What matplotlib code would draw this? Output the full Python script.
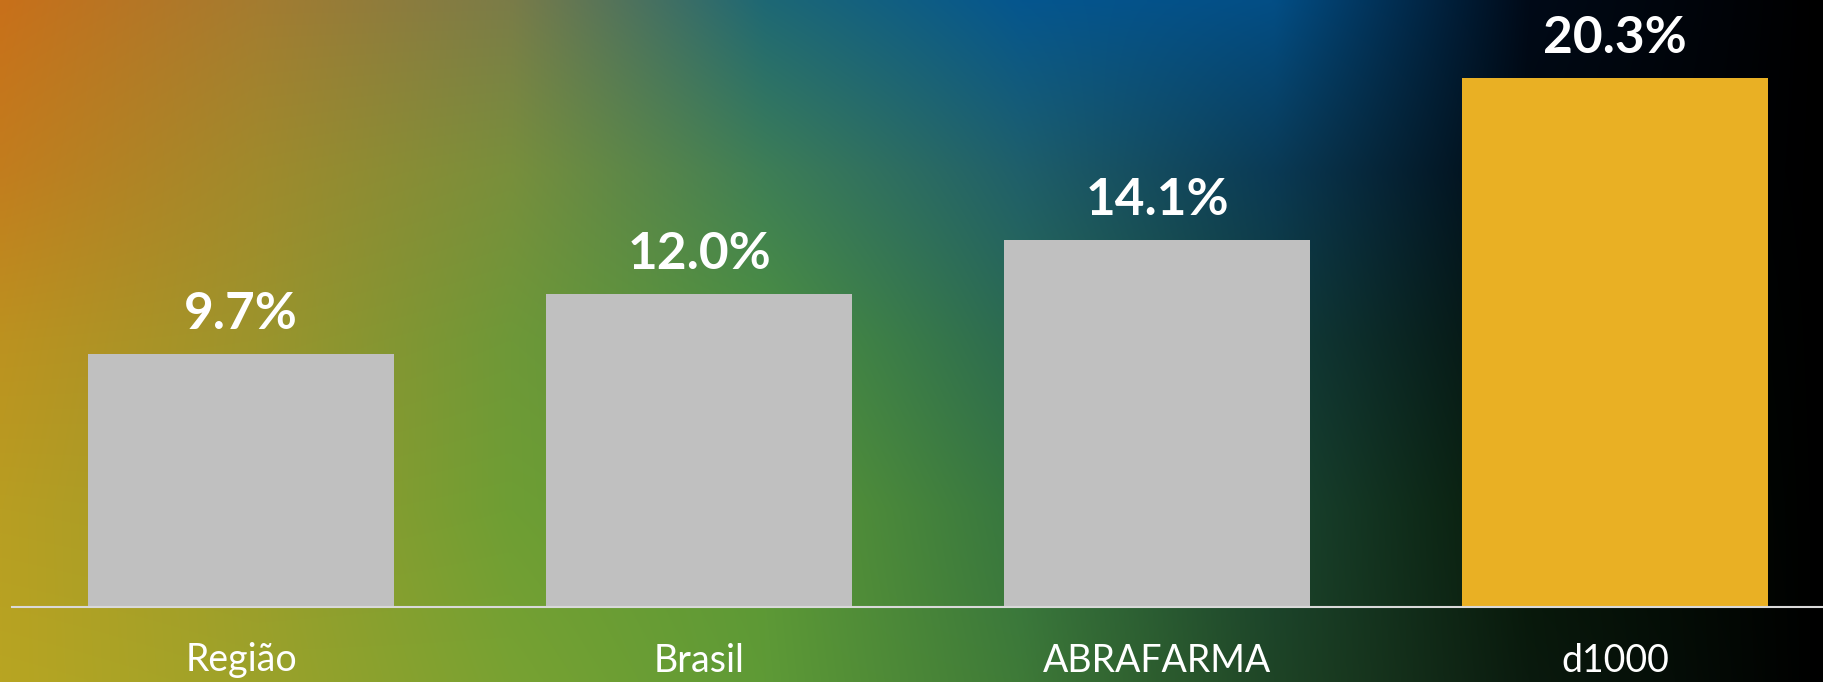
import numpy as np
import matplotlib.pyplot as plt
import matplotlib.transforms as mtransforms
from matplotlib.colors import to_rgb

# Dados do gráfico
categorias = ['Região', 'Brasil', 'ABRAFARMA', 'd1000']
valores = [9.7, 12.0, 14.1, 20.3]
rotulos = ['9.7%', '12.0%', '14.1%', '20.3%']
cores = ['#C0C0C0', '#C0C0C0', '#C0C0C0', '#E9B024']

# Fundo em degradê (linhas de cima para baixo, colunas da esquerda para a direita)
fundo_hex = [
    ['#C8701A', '#A47C30', '#7A7C48', '#1E6874', '#05568E', '#034E85', '#000A18', '#000000'],
    ['#C27D1E', '#A08A2C', '#788F3C', '#3E7E56', '#1F5F6A', '#0A3A55', '#000810', '#000000'],
    ['#BC9220', '#9C942C', '#6E9838', '#4C9040', '#2B6A50', '#123C3A', '#03100C', '#000000'],
    ['#B89E22', '#9A9C2C', '#6E9E34', '#5C9836', '#367640', '#1A4430', '#061808', '#000000'],
    ['#B8A522', '#9CA22A', '#78A232', '#5E9A36', '#3E7A38', '#1E4426', '#0A1A0E', '#000000'],
]
fundo_x = [0, 255, 510, 765, 1020, 1275, 1530, 1824]
fundo_y = [0, 170, 340, 510, 682]

W, H = 1824, 682
fig = plt.figure(figsize=(W / 100, H / 100), dpi=100)

# degradê suave: interpolação linear em x e depois em y
cor = np.array([[to_rgb(c) for c in linha] for linha in fundo_hex])
gx = np.linspace(0, W, 400)
gy = np.linspace(0, H, 160)
tmp = np.stack([[np.interp(gx, fundo_x, cor[i, :, k]) for k in range(3)]
                for i in range(len(fundo_y))])          # (ny, 3, nx)
img = np.stack([[np.interp(gy, fundo_y, tmp[:, k, j]) for k in range(3)]
                for j in range(len(gx))])               # (nx, 3, ny)
img = img.transpose(2, 0, 1)                            # (ny, nx, 3)

ax_bg = fig.add_axes([0, 0, 1, 1], zorder=0)
ax_bg.imshow(img, aspect='auto', interpolation='bilinear', extent=[0, 1, 1, 0])
ax_bg.set_axis_off()

ax = fig.add_axes([12 / W, 75 / H, 1 - 12 / W, 607 / H], zorder=1)
ax.patch.set_alpha(0)

x = np.arange(len(categorias))
ax.bar(x, valores, width=0.668, color=cores)

# Rótulos de valor acima das barras
for xi, v, r in zip(x, valores, rotulos):
    ax.annotate(r, (xi, v), xytext=(0, 18), textcoords='offset points',
                ha='center', va='baseline', color='white',
                fontsize=37, fontweight='bold', family=['Lato', 'DejaVu Sans'])

# Nomes das categorias
trans = mtransforms.blended_transform_factory(ax.transData, fig.transFigure)
for xi, c in zip(x, categorias):
    ax.text(xi, 10.5 / H, c, transform=trans, ha='center', va='baseline',
            color='white', fontsize=27, family=['Lato', 'DejaVu Sans'])

ax.set_xlim(-0.5, 3.456)
ax.set_ylim(0, 23.29)
for s in ['top', 'right', 'left']:
    ax.spines[s].set_visible(False)
ax.spines['bottom'].set_color('#D9D9D9')
ax.spines['bottom'].set_linewidth(1.5)
ax.set_xticks([])
ax.set_yticks([])

fig.savefig('out.png', dpi=100)
